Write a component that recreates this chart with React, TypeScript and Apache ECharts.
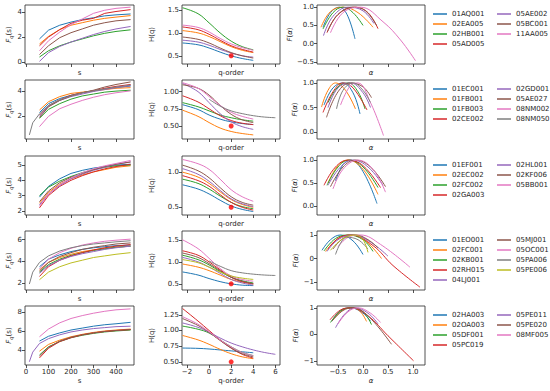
import React, { useEffect, useRef } from 'react';
import * as echarts from 'echarts';

const n = null;

// s grid for fluctuation functions, q grid for generalized Hurst exponents
const sGrid = [15, 30, 60, 100, 150, 200, 250, 300, 350, 400, 465];
const qGrid = [-2.4, -1, 0, 1, 2, 3, 4, 5, 6];

// ---------- Row 1 ----------
const row1Names = ['01AQ001', '02EA005', '02HB001', '05AD005', '05AE002', '05BC001', '11AA005'];
const row1Fq = [
  [n, n, 1.85, 2.55, 2.95, 3.2, 3.4, 3.55, 3.7, 3.78, 3.85],
  [n, n, 1.45, 2.05, 2.6, 2.95, 3.15, 3.35, 3.5, 3.6, 3.72],
  [n, n, 0.4, 0.9, 1.3, 1.6, 1.85, 2.1, 2.3, 2.45, 2.58],
  [n, n, 1.3, 2.0, 2.6, 3.1, 3.35, 3.5, 3.9, 4.05, 4.2],
  [n, n, 0.05, 0.75, 1.25, 1.6, 1.9, 2.2, 2.45, 2.65, 2.85],
  [n, n, 0.6, 1.3, 1.95, 2.35, 2.65, 2.95, 3.15, 3.3, 3.4],
  [n, n, 0.9, 1.7, 2.4, 3.0, 3.45, 3.9, 4.15, 4.3, 4.4],
];
const row1Hq = [
  [0.78, 0.74, 0.67, 0.58, 0.5, 0.44, 0.4, n, n],
  [1.05, 1.0, 0.92, 0.81, 0.7, 0.62, 0.57, n, n],
  [1.55, 1.42, 1.22, 1.0, 0.82, 0.7, 0.63, n, n],
  [1.13, 1.07, 0.97, 0.84, 0.72, 0.64, 0.58, n, n],
  [0.84, 0.8, 0.73, 0.64, 0.56, 0.5, 0.47, n, n],
  [0.91, 0.86, 0.78, 0.67, 0.57, 0.5, 0.45, n, n],
  [1.17, 1.12, 1.02, 0.88, 0.76, 0.68, 0.62, n, n],
];
const row1Fa = [
  [[-0.8, 0.45], [-0.65, 0.85], [-0.48, 1.0], [-0.32, 0.8], [-0.16, 0.13]],
  [[-0.84, 0.45], [-0.65, 0.88], [-0.4, 1.0], [-0.1, 0.85], [0.2, 0.45]],
  [[-0.8, 0.4], [-0.6, 0.85], [-0.4, 1.0], [-0.2, 0.85], [0.0, 0.5]],
  [[-0.72, 0.3], [-0.5, 0.8], [-0.15, 1.0], [0.1, 0.85], [0.3, 0.41]],
  [[-0.79, 0.22], [-0.6, 0.75], [-0.3, 1.0], [0.0, 0.9], [0.22, 0.55]],
  [[-0.71, 0.33], [-0.5, 0.8], [-0.2, 1.0], [0.05, 0.9], [0.27, 0.5]],
  [[-0.65, 0.3], [-0.4, 0.85], [-0.05, 1.0], [0.4, 0.6], [0.75, 0.1], [1.05, -0.47]],
];

// ---------- Row 2 ----------
const row2Names = ['01EC001', '01FB001', '01FB003', '02CE002', '02GD001', '05AE027', '08NM002', '08NM050'];
const row2Fq = [
  [n, n, 2.3, 3.0, 3.4, 3.65, 3.85, 4.0, 4.15, 4.25, 4.38],
  [n, n, 2.5, 3.15, 3.55, 3.8, 3.9, 4.0, 4.1, 4.2, 4.25],
  [n, n, 1.85, 2.55, 3.0, 3.35, 3.6, 3.75, 3.9, 3.98, 4.05],
  [n, n, 2.1, 2.85, 3.3, 3.65, 3.85, 4.0, 4.2, 4.35, 4.5],
  [n, n, 2.0, 2.8, 3.25, 3.55, 3.75, 3.95, 4.1, 4.25, 4.4],
  [n, n, 1.9, 2.75, 3.25, 3.6, 3.85, 4.05, 4.3, 4.5, 4.7],
  [n, n, 1.2, 2.0, 2.6, 2.95, 3.25, 3.5, 3.7, 3.85, 4.0],
  [0.55, 1.5, 2.2, 2.85, 3.3, 3.6, 3.85, 4.0, 4.15, 4.3, 4.45],
];
const row2Hq = [
  [0.81, 0.74, 0.66, 0.6, 0.56, 0.535, 0.52, n, n],
  [0.73, 0.64, 0.55, 0.47, 0.42, 0.39, 0.37, n, n],
  [0.84, 0.78, 0.72, 0.66, 0.62, 0.59, 0.57, n, n],
  [0.94, 0.85, 0.75, 0.65, 0.58, 0.54, 0.52, n, n],
  [1.12, 1.0, 0.84, 0.68, 0.56, 0.49, 0.45, n, n],
  [1.1, 1.05, 0.95, 0.8, 0.67, 0.59, 0.55, n, n],
  [1.13, 1.05, 0.93, 0.8, 0.7, 0.64, 0.6, n, n],
  [n, n, 0.89, 0.79, 0.72, 0.68, 0.65, 0.63, 0.62],
];
const row2Fa = [
  [[-0.78, 0.55], [-0.6, 0.9], [-0.4, 1.0], [-0.2, 0.8], [-0.06, 0.37]],
  [[-0.83, 0.51], [-0.7, 0.85], [-0.55, 1.0], [-0.35, 0.85], [-0.15, 0.47]],
  [[-0.7, 0.6], [-0.5, 0.92], [-0.3, 1.0], [-0.1, 0.82], [0.04, 0.47]],
  [[-0.8, 0.4], [-0.6, 0.82], [-0.4, 1.0], [-0.2, 0.9], [0.08, 0.45]],
  [[-0.7, 0.5], [-0.5, 0.9], [-0.25, 1.0], [0.0, 0.8], [0.15, 0.5]],
  [[-0.73, 0.3], [-0.5, 0.82], [-0.25, 1.0], [0.0, 0.92], [0.17, 0.7]],
  [[-0.45, 0.55], [-0.25, 0.95], [-0.1, 1.0], [0.15, 0.6], [0.41, -0.07]],
  [[-0.53, 0.47], [-0.4, 0.85], [-0.2, 1.0], [0.0, 0.85], [0.15, 0.6]],
];

// ---------- Row 3 ----------
const row3Names = ['01EF001', '02EC002', '02FC002', '02GA003', '02HL001', '02KF006', '05BB001'];
const row3Fq = [
  [n, n, 2.9, 3.6, 4.1, 4.45, 4.65, 4.8, 4.9, 5.0, 5.05],
  [n, n, 2.5, 3.2, 3.75, 4.1, 4.35, 4.55, 4.7, 4.85, 4.95],
  [n, n, 3.0, 3.55, 3.95, 4.25, 4.5, 4.7, 4.85, 4.95, 5.0],
  [n, n, 2.2, 3.0, 3.6, 4.0, 4.3, 4.55, 4.75, 4.9, 5.05],
  [n, n, 2.4, 3.1, 3.65, 4.1, 4.4, 4.65, 4.85, 5.05, 5.2],
  [n, n, 2.6, 3.3, 3.85, 4.2, 4.45, 4.7, 4.9, 5.05, 5.2],
  [n, n, 2.3, 3.1, 3.7, 4.15, 4.5, 4.75, 4.95, 5.1, 5.3],
];
const row3Hq = [
  [0.82, 0.76, 0.69, 0.6, 0.52, 0.47, 0.44, n, n],
  [1.0, 0.93, 0.84, 0.72, 0.61, 0.54, 0.5, n, n],
  [0.9, 0.84, 0.76, 0.66, 0.57, 0.51, 0.48, n, n],
  [0.95, 0.88, 0.8, 0.68, 0.57, 0.5, 0.46, n, n],
  [1.05, 0.97, 0.87, 0.74, 0.62, 0.55, 0.51, n, n],
  [1.1, 1.02, 0.92, 0.78, 0.65, 0.57, 0.53, n, n],
  [1.18, 1.12, 1.04, 0.9, 0.75, 0.65, 0.585, n, n],
];
const row3Fa = [
  [[-0.55, 0.55], [-0.4, 0.9], [-0.25, 1.0], [0.0, 0.75], [0.28, 0.05]],
  [[-0.7, 0.5], [-0.5, 0.88], [-0.3, 1.0], [0.0, 0.8], [0.3, 0.25]],
  [[-0.72, 0.45], [-0.5, 0.85], [-0.28, 1.0], [0.0, 0.85], [0.3, 0.4]],
  [[-0.78, 0.45], [-0.55, 0.85], [-0.3, 1.0], [0.0, 0.88], [0.35, 0.4]],
  [[-0.7, 0.45], [-0.45, 0.85], [-0.2, 1.0], [0.1, 0.85], [0.4, 0.45]],
  [[-0.65, 0.42], [-0.4, 0.85], [-0.15, 1.0], [0.15, 0.85], [0.45, 0.42]],
  [[-0.6, 0.37], [-0.4, 0.8], [-0.1, 1.0], [0.2, 0.8], [0.45, 0.3]],
];

// ---------- Row 4 ----------
const row4Names = ['01EO001', '02FC001', '02KB001', '02RH015', '04LJ001', '05MJ001', '05OC001', '05PA006', '05PE006'];
const row4Fq = [
  [n, n, 3.5, 4.2, 4.6, 4.9, 5.1, 5.25, 5.35, 5.45, 5.5],
  [n, n, 3.2, 3.9, 4.35, 4.65, 4.9, 5.05, 5.2, 5.3, 5.4],
  [n, n, 3.0, 3.7, 4.2, 4.55, 4.8, 5.0, 5.15, 5.3, 5.4],
  [n, n, 2.6, 3.5, 4.1, 4.5, 4.8, 5.05, 5.25, 5.4, 5.55],
  [n, n, 2.9, 3.6, 4.1, 4.45, 4.7, 4.9, 5.1, 5.25, 5.4],
  [n, n, 3.1, 3.9, 4.45, 4.8, 5.1, 5.3, 5.45, 5.6, 5.7],
  [n, n, 3.3, 4.2, 4.8, 5.2, 5.5, 5.7, 5.85, 5.95, 6.05],
  [1.9, 3.0, 3.9, 4.5, 4.95, 5.25, 5.45, 5.6, 5.7, 5.8, 5.9],
  [n, n, 2.3, 3.0, 3.5, 3.85, 4.1, 4.35, 4.5, 4.65, 4.8],
];
const row4Hq = [
  [0.77, 0.7, 0.62, 0.55, 0.5, 0.47, 0.46, n, n],
  [0.95, 0.88, 0.8, 0.7, 0.6, 0.54, 0.5, n, n],
  [1.15, 1.05, 0.93, 0.78, 0.65, 0.57, 0.52, n, n],
  [1.25, 1.15, 1.0, 0.82, 0.65, 0.55, 0.5, n, n],
  [1.1, 1.0, 0.88, 0.74, 0.6, 0.52, 0.47, n, n],
  [1.2, 1.1, 0.96, 0.8, 0.65, 0.56, 0.5, n, n],
  [1.5, 1.3, 1.08, 0.85, 0.68, 0.6, 0.56, n, n],
  [n, n, 1.02, 0.9, 0.8, 0.75, 0.72, 0.7, 0.69],
  [1.05, 0.98, 0.88, 0.77, 0.68, 0.63, 0.6, n, n],
];
const row4Fa = [
  [[-0.82, 0.35], [-0.65, 0.8], [-0.45, 1.0], [-0.2, 0.75], [0.0, 0.17]],
  [[-0.75, 0.3], [-0.5, 0.85], [-0.25, 1.0], [0.05, 0.75], [0.37, 0.0]],
  [[-0.78, 0.32], [-0.55, 0.85], [-0.3, 1.0], [0.0, 0.8], [0.2, 0.3]],
  [[-0.7, 0.4], [-0.5, 0.85], [-0.25, 1.0], [0.2, 0.55], [0.6, -0.3], [1.14, -1.22]],
  [[-0.72, 0.3], [-0.5, 0.8], [-0.2, 1.0], [0.15, 0.7], [0.5, 0.1]],
  [[-0.6, 0.4], [-0.4, 0.85], [-0.15, 1.0], [0.1, 0.8], [0.3, 0.45]],
  [[-0.5, 0.5], [-0.3, 0.9], [-0.05, 1.0], [0.35, 0.6], [0.94, -0.37]],
  [[-0.55, 0.17], [-0.45, 0.65], [-0.33, 0.9], [-0.1, 0.8], [0.1, 0.4]],
  [[-0.65, 0.35], [-0.4, 0.85], [-0.15, 1.0], [0.0, 0.8], [0.1, 0.26]],
];

// ---------- Row 5 ----------
const row5Names = ['02HA003', '02OA003', '05DF001', '05PC019', '05PE011', '05PE020', '08MF005'];
const row5Fq = [
  [n, n, 4.95, 5.45, 5.8, 6.1, 6.3, 6.5, 6.65, 6.75, 6.9],
  [n, n, 3.9, 4.6, 5.05, 5.4, 5.65, 5.85, 6.0, 6.1, 6.2],
  [n, n, 3.5, 4.35, 4.9, 5.3, 5.55, 5.75, 5.9, 6.0, 6.1],
  [n, n, 3.2, 4.2, 4.9, 5.3, 5.6, 5.8, 5.95, 6.05, 6.15],
  [2.8, 3.8, 4.7, 5.2, 5.6, 5.9, 6.1, 6.25, 6.35, 6.45, 6.5],
  [n, n, 3.4, 4.3, 4.95, 5.35, 5.6, 5.8, 5.95, 6.05, 6.15],
  [n, n, 5.4, 6.2, 6.85, 7.3, 7.6, 7.85, 8.05, 8.2, 8.3],
];
const row5Hq = [
  [0.72, 0.715, 0.705, 0.69, 0.675, 0.66, 0.645, n, n],
  [0.92, 0.85, 0.78, 0.7, 0.63, 0.58, 0.55, n, n],
  [1.07, 1.02, 0.96, 0.85, 0.74, 0.65, 0.6, n, n],
  [1.35, 1.15, 1.0, 0.85, 0.72, 0.62, 0.56, n, n],
  [1.12, 1.05, 0.97, 0.88, 0.8, 0.74, 0.69, 0.65, 0.62],
  [1.19, 1.08, 0.97, 0.84, 0.72, 0.63, 0.58, n, n],
  [1.22, 1.1, 0.98, 0.85, 0.74, 0.65, 0.6, n, n],
];
const row5Fa = [
  [[-0.62, 0.5], [-0.45, 0.9], [-0.25, 1.0], [0.0, 0.8], [0.15, 0.5]],
  [[-0.6, 0.55], [-0.4, 0.92], [-0.2, 1.0], [-0.05, 0.85], [0.07, 0.49]],
  [[-0.65, 0.45], [-0.45, 0.88], [-0.25, 1.0], [0.0, 0.85], [0.17, 0.37]],
  [[-0.66, 0.55], [-0.45, 0.92], [-0.25, 1.0], [0.1, 0.7], [0.5, -0.05], [1.01, -0.99]],
  [[-0.55, 0.25], [-0.35, 0.8], [-0.15, 1.0], [0.1, 0.8], [0.3, 0.4]],
  [[-0.62, 0.5], [-0.4, 0.9], [-0.2, 1.0], [0.1, 0.7], [0.57, -0.37]],
  [[-0.5, 0.4], [-0.3, 0.85], [-0.1, 1.0], [0.15, 0.8], [0.35, 0.45]],
];

// reference point H(2) = 0.5
const refPoint = [2, 0.5];

// tick values
const xTicks = [[0, 100, 200, 300, 400], [-2, 0, 2, 4, 6], [-0.5, 0, 0.5, 1.0]];
const yTicks = [
  [[0, 2, 4], [0.5, 1.0, 1.5], [-0.5, 0, 0.5, 1.0]],
  [[2, 4], [0.5, 0.75, 1.0], [0, 0.5, 1.0]],
  [[2, 3, 4, 5], [0.5, 1.0], [0, 0.5, 1.0]],
  [[2, 4, 6], [0.5, 1.0, 1.5], [-1, 0, 1]],
  [[4, 6, 8], [0.5, 0.75, 1.0, 1.25], [-1, 0, 1]],
];

// ---------- layout / styling ----------
const FONT = 'DejaVu Sans';
const INK = '#262626';
const PALETTE = ['#1f77b4', '#ff7f0e', '#2ca02c', '#d62728', '#9467bd', '#8c564b', '#e377c2', '#7f7f7f', '#bcbd22'];
const COL_LEFT = [25, 182, 317];
const COL_W = [109, 98, 108];
const ROW_TOP = [5, 80, 156, 231, 306];
const ROW_H = 59;
const X_RANGE = [[-4.4, 480], [-2.45, 6.42], [-0.92, 1.24]];
const X_DEC = [0, 0, 1];
const Y_RANGE = [
  [[-0.16, 4.57], [0.32, 1.61], [-0.56, 1.06]],
  [[0.23, 4.85], [0.31, 1.17], [-0.14, 1.06]],
  [[1.73, 5.59], [0.39, 1.23], [-0.2, 1.09]],
  [[1.35, 6.8], [0.36, 1.7], [-1.34, 1.17]],
  [[2.46, 8.6], [0.45, 1.39], [-1.15, 1.07]],
];
const Y_DEC = [
  [0, 1, 1],
  [0, 2, 1],
  [0, 1, 1],
  [0, 1, 0],
  [0, 2, 0],
];

const ROWS = [
  { names: row1Names, fq: row1Fq, hq: row1Hq, fa: row1Fa },
  { names: row2Names, fq: row2Fq, hq: row2Hq, fa: row2Fa },
  { names: row3Names, fq: row3Fq, hq: row3Hq, fa: row3Fa },
  { names: row4Names, fq: row4Fq, hq: row4Hq, fa: row4Fa },
  { names: row5Names, fq: row5Fq, hq: row5Hq, fa: row5Fa },
];

const fmt = (d: number) => (v: number) => v.toFixed(d).replace('-', '\u2212');

const richName = {
  i: { fontStyle: 'italic', fontSize: 7, fontFamily: FONT, color: INK },
  n: { fontSize: 7, fontFamily: FONT, color: INK },
  s: { fontStyle: 'italic', fontSize: 5, fontFamily: FONT, color: INK, padding: [4, 0, 0, 0] },
};

const Y_NAMES = ['{i|F}{s|q}{n|(s)}', '{n|H(q)}', '{i|F}{n|(}{i|\u03b1}{n|)}'];
const Y_GAP = [12, 27, 10];
const X_NAMES = ['s', 'q-order', '\u03b1'];

function pairs(xs: number[], ys: (number | null)[]) {
  const out: number[][] = [];
  ys.forEach((y, k) => {
    if (y !== null) out.push([xs[k], y]);
  });
  return out;
}

function buildOption() {
  const grid: any[] = [];
  const xAxis: any[] = [];
  const yAxis: any[] = [];
  const series: any[] = [];
  const legend: any[] = [];
  const last = ROWS.length - 1;

  ROWS.forEach((row, r) => {
    for (let c = 0; c < 3; c++) {
      const g = r * 3 + c;
      grid.push({
        left: COL_LEFT[c], top: ROW_TOP[r], width: COL_W[c], height: ROW_H,
        show: true, borderColor: INK, borderWidth: 0.8, backgroundColor: 'transparent',
      });
      xAxis.push({
        type: 'value', gridIndex: g, min: X_RANGE[c][0], max: X_RANGE[c][1],
        splitLine: { show: false }, axisLine: { show: false, onZero: false },
        axisTick: { show: true, length: 3, lineStyle: { color: INK, width: 0.8 }, customValues: xTicks[c] },
        axisLabel: {
          show: r === last, customValues: xTicks[c], formatter: fmt(X_DEC[c]),
          fontSize: 7, color: INK, fontFamily: FONT, margin: 3,
        },
        name: X_NAMES[c], nameLocation: 'middle', nameGap: r === last ? 12 : 5,
        nameTextStyle: { fontSize: 7, color: INK, fontFamily: FONT, fontStyle: c === 2 ? 'italic' : 'normal' },
      });
      yAxis.push({
        type: 'value', gridIndex: g, min: Y_RANGE[r][c][0], max: Y_RANGE[r][c][1],
        splitLine: { show: false }, axisLine: { show: false, onZero: false },
        axisTick: { show: true, length: 3, lineStyle: { color: INK, width: 0.8 }, customValues: yTicks[r][c] },
        axisLabel: {
          customValues: yTicks[r][c], formatter: fmt(Y_DEC[r][c]),
          fontSize: 7, color: INK, fontFamily: FONT, margin: 3,
        },
        name: Y_NAMES[c], nameLocation: 'middle', nameRotate: 90, nameGap: Y_GAP[c],
        nameTextStyle: { rich: richName },
      });
    }
    const g0 = r * 3;
    row.names.forEach((nm, i) => {
      const color = PALETTE[i];
      const common = {
        name: nm, type: 'line', showSymbol: false, symbol: 'none',
        lineStyle: { width: 1, color }, itemStyle: { color }, emphasis: { disabled: true },
      };
      series.push({ ...common, xAxisIndex: g0, yAxisIndex: g0, data: pairs(sGrid, row.fq[i]) });
      series.push({ ...common, xAxisIndex: g0 + 1, yAxisIndex: g0 + 1, smooth: 0.4, data: pairs(qGrid, row.hq[i]) });
      series.push({ ...common, xAxisIndex: g0 + 2, yAxisIndex: g0 + 2, smooth: 0.4, data: row.fa[i] });
    });
    series.push({
      type: 'scatter', xAxisIndex: g0 + 1, yAxisIndex: g0 + 1, data: [refPoint],
      symbolSize: 5, itemStyle: { color: '#ff0000' }, z: 5,
    });
    const half = Math.ceil(row.names.length / 2);
    const legendBase = {
      orient: 'vertical', top: ROW_TOP[r] + 5, padding: 0, icon: 'rect',
      itemWidth: 14, itemHeight: 1.5, itemGap: 2, selectedMode: false,
      textStyle: { fontSize: 7, color: INK, fontFamily: FONT, lineHeight: 8 },
    };
    legend.push({ ...legendBase, left: 433, data: row.names.slice(0, half) });
    legend.push({ ...legendBase, left: 497, data: row.names.slice(half) });
  });

  return { animation: false, backgroundColor: '#ffffff', grid, xAxis, yAxis, series, legend };
}

export default function App() {
  const ref = useRef<HTMLDivElement>(null);
  useEffect(() => {
    const chart = echarts.init(ref.current!, null, { renderer: 'svg' });
    chart.setOption(buildOption() as any);
    return () => chart.dispose();
  }, []);
  return (
    <div
      ref={ref}
      style={{ position: 'fixed', left: 0, top: 0, width: 550, height: 391, background: '#fff' }}
    />
  );
}
